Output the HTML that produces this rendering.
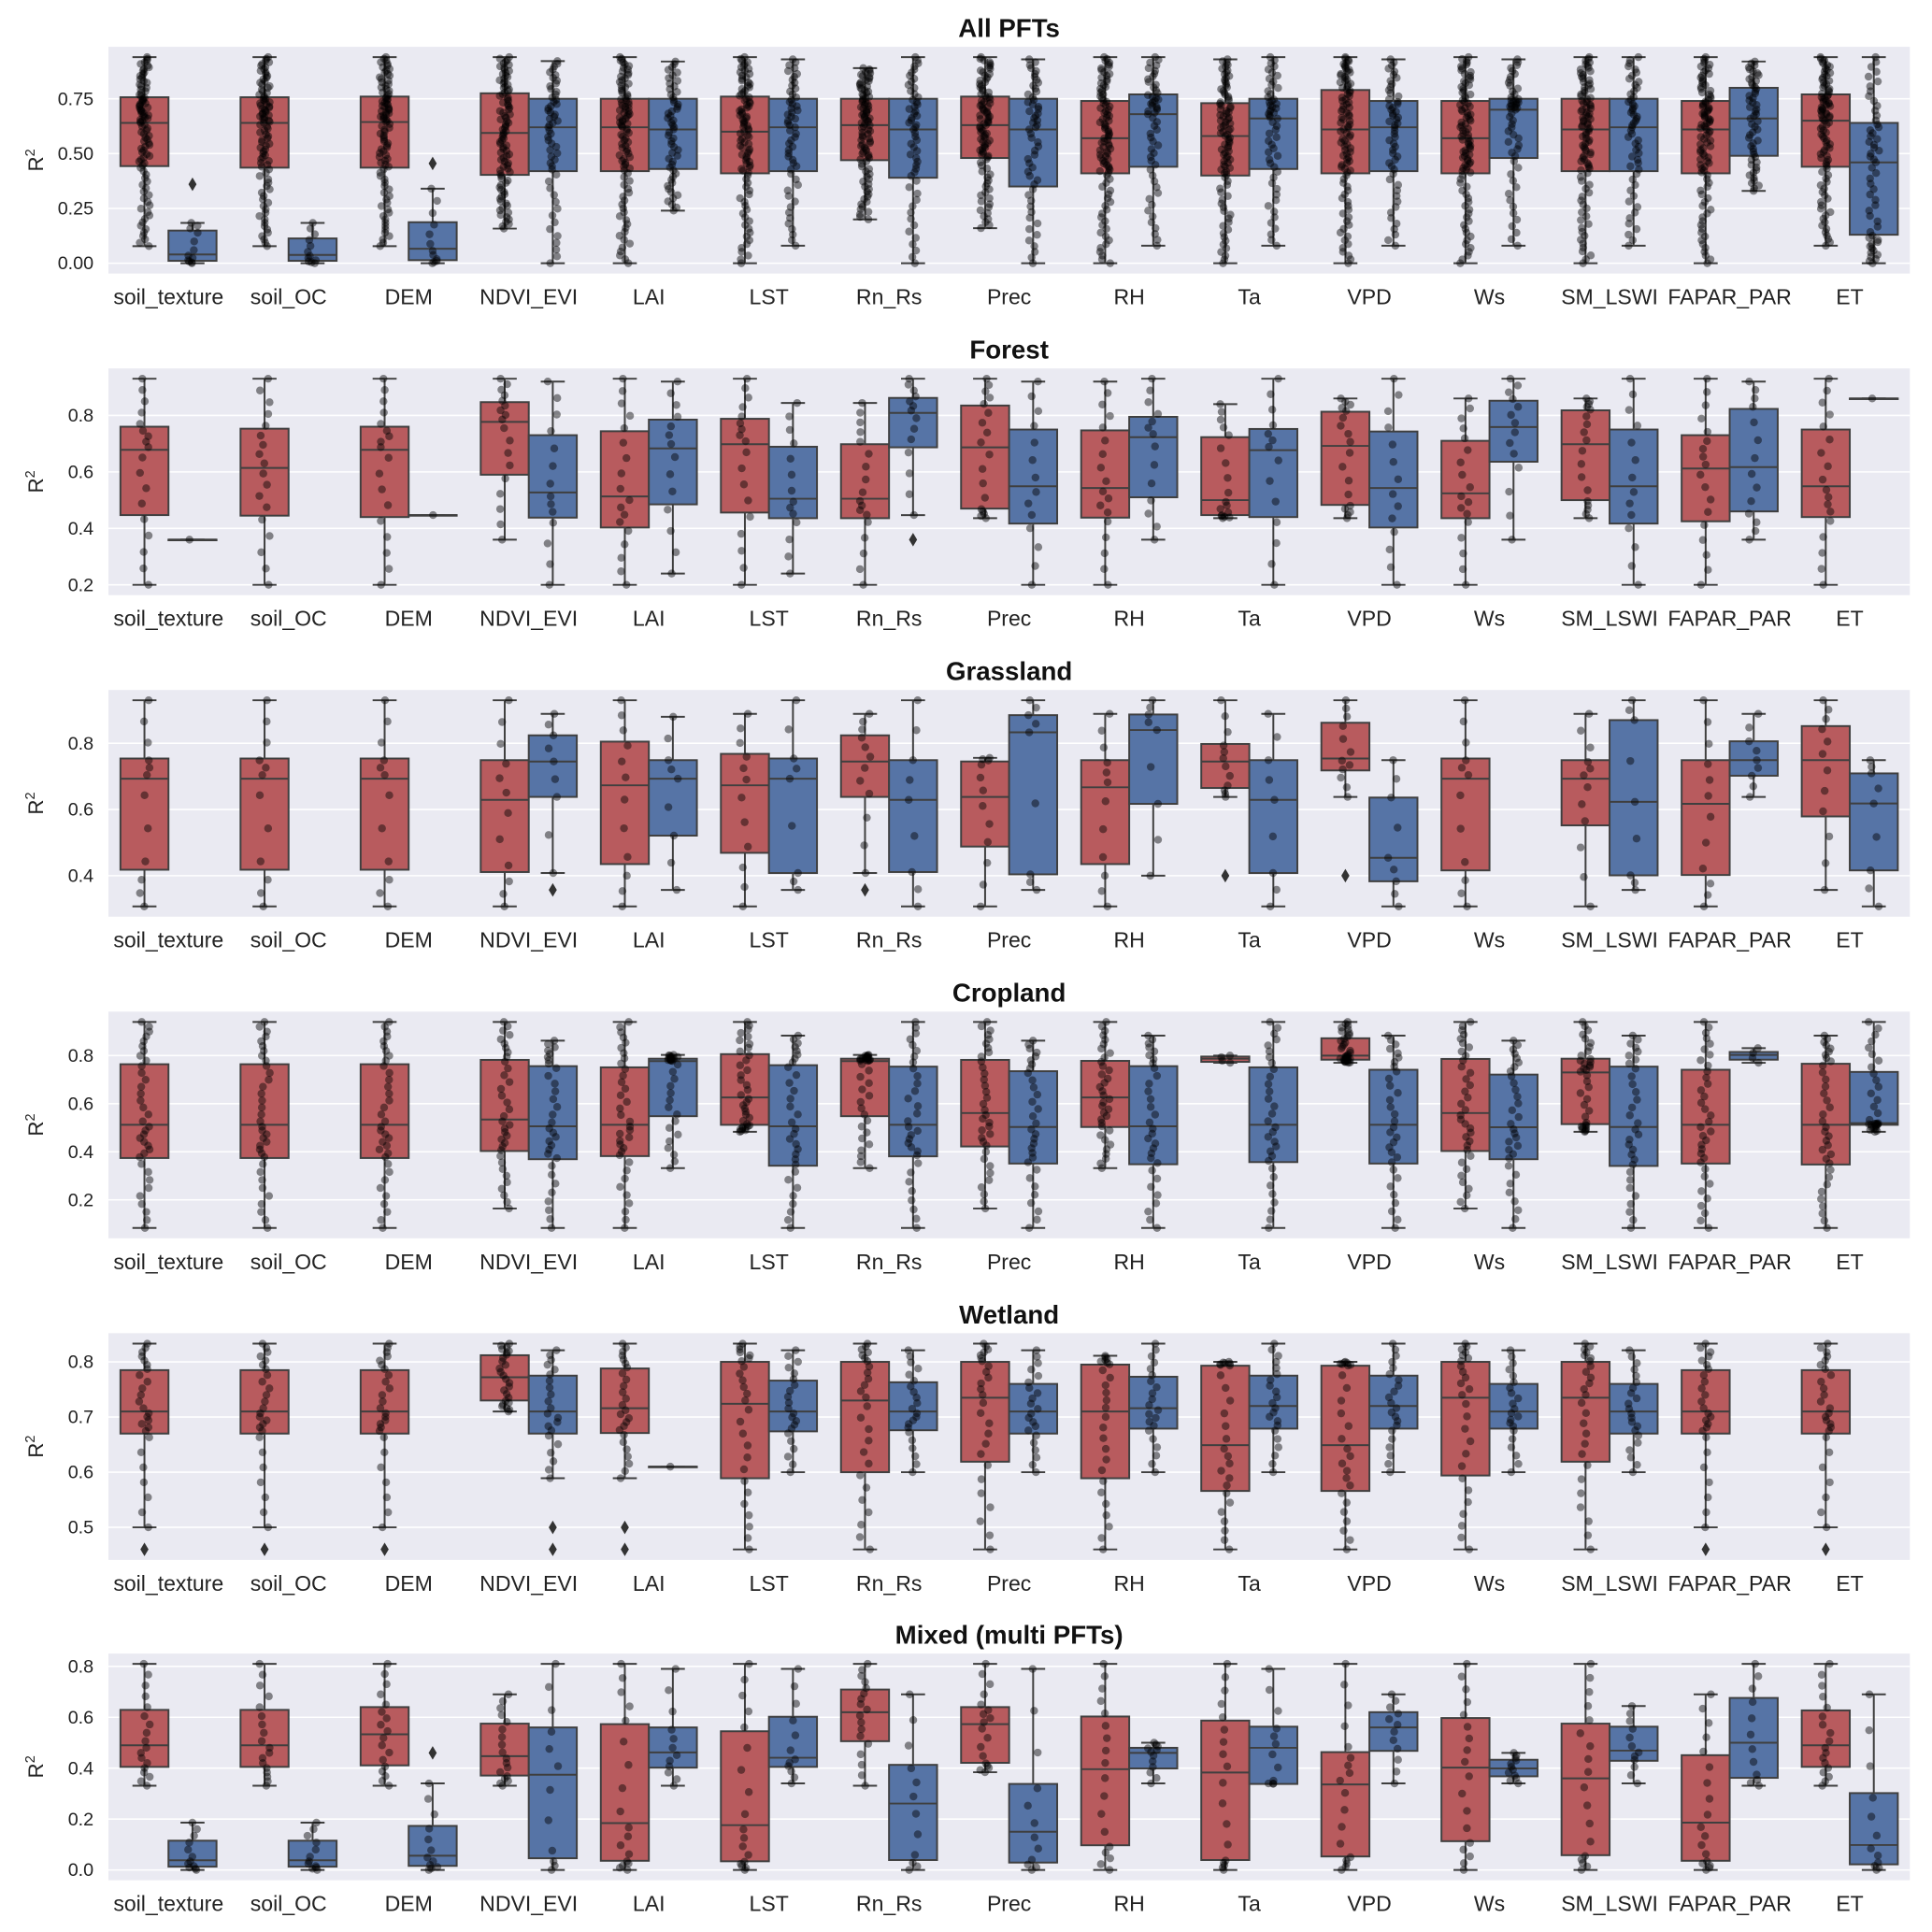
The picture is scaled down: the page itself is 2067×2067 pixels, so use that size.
<!DOCTYPE html>
<html><head><meta charset="utf-8">
<style>
html,body{margin:0;padding:0;background:#fff;}
svg{display:block;font-family:"Liberation Sans",Arial,sans-serif;}
</style></head>
<body>
<svg id="chart" width="2067" height="2067" viewBox="0 0 1568 1568" xmlns="http://www.w3.org/2000/svg"></svg>
<script>
// ---- data ----
const categories = ["soil_texture","soil_OC","DEM","NDVI_EVI","LAI","LST","Rn_Rs","Prec","RH","Ta","VPD","Ws","SM_LSWI","FAPAR_PAR","ET"];
const panelTitles = ["All PFTs","Forest","Grassland","Cropland","Wetland","Mixed (multi PFTs)"];
// box stats: [whiskerLow, q1, median, q3, whiskerHigh]
const allRed = [[.078,.443,.64,.757,.94],[.078,.436,.64,.757,.94],[.078,.436,.644,.76,.94],[.158,.403,.594,.775,.94],[0,.42,.62,.75,.94],[0,.41,.60,.76,.94],[.2,.47,.63,.75,.89],[.16,.48,.63,.76,.94],[0,.41,.57,.74,.94],[0,.40,.58,.73,.93],[0,.41,.61,.79,.94],[0,.41,.57,.74,.94],[0,.42,.61,.75,.94],[0,.41,.61,.74,.94],[.08,.44,.65,.77,.94]];
const allBlue = [[0,.011,.04,.149,.184],[0,.011,.038,.113,.184],[0,.014,.066,.187,.34],[0,.42,.62,.75,.922],[.24,.43,.61,.75,.92],[.08,.42,.62,.75,.93],[0,.39,.61,.75,.94],[0,.35,.61,.75,.93],[.08,.44,.68,.77,.94],[.08,.43,.66,.75,.94],[.08,.42,.62,.74,.93],[.08,.48,.70,.75,.93],[.08,.42,.62,.75,.94],[.33,.49,.66,.80,.92],[0,.13,.46,.64,.94]];
const forestRed = [[.2,.447,.678,.76,.93],[.2,.445,.614,.753,.93],[.2,.44,.678,.76,.93],[.36,.59,.777,.847,.93],[.2,.403,.513,.744,.93],[.2,.456,.698,.788,.93],[.2,.436,.505,.698,.844],[.436,.47,.687,.835,.93],[.2,.438,.543,.747,.92],[.436,.447,.5,.723,.84],[.436,.483,.692,.813,.86],[.2,.436,.524,.71,.86],[.436,.5,.698,.818,.86],[.2,.425,.612,.73,.93],[.2,.44,.549,.75,.93]];
const forestBlue = [[.36,.36,.36,.36,.36],null,[.447,.447,.447,.447,.447],[.2,.438,.527,.73,.92],[.24,.485,.683,.785,.92],[.24,.436,.505,.689,.844],[.447,.687,.809,.862,.93],[.2,.417,.549,.75,.92],[.36,.51,.723,.795,.93],[.2,.44,.677,.752,.93],[.2,.403,.543,.743,.93],[.36,.636,.759,.852,.93],[.2,.417,.549,.75,.93],[.36,.46,.617,.823,.92],[.86,.86,.86,.86,.86]];
const grassRed = [[.307,.418,.693,.754,.93],[.307,.418,.693,.754,.93],[.307,.418,.693,.754,.93],[.307,.411,.629,.749,.93],[.307,.435,.673,.805,.93],[.307,.469,.673,.768,.889],[.408,.638,.745,.824,.889],[.307,.488,.638,.745,.756],[.307,.435,.667,.749,.889],[.638,.665,.745,.798,.93],[.638,.718,.754,.862,.93],[.307,.416,.693,.754,.93],[.307,.552,.693,.749,.889],[.307,.402,.617,.749,.93],[.357,.579,.749,.852,.93]];
const grassBlue = [null,null,null,[.408,.638,.745,.824,.889],[.357,.521,.693,.749,.88],[.357,.408,.693,.754,.93],[.307,.411,.629,.749,.93],[.357,.404,.833,.885,.93],[.4,.617,.84,.887,.93],[.307,.408,.629,.749,.889],[.307,.383,.454,.636,.749],null,[.357,.401,.623,.87,.93],[.638,.702,.749,.806,.889],[.307,.416,.618,.709,.749]];
const cropRed = [[.083,.374,.512,.764,.94],[.083,.374,.512,.764,.94],[.083,.374,.512,.764,.94],[.164,.403,.534,.782,.94],[.083,.382,.512,.751,.94],[.483,.512,.626,.806,.94],[.332,.548,.777,.787,.803],[.164,.422,.561,.782,.94],[.332,.503,.626,.778,.94],[.77,.774,.787,.796,.80],[.77,.783,.80,.872,.94],[.164,.403,.561,.786,.94],[.483,.515,.73,.787,.94],[.083,.351,.512,.741,.94],[.083,.347,.512,.766,.883]];
const cropBlue = [null,null,null,[.083,.369,.506,.756,.862],[.332,.548,.777,.787,.803],[.083,.342,.506,.76,.883],[.083,.381,.512,.754,.94],[.083,.351,.503,.735,.862],[.083,.348,.506,.756,.883],[.083,.357,.512,.751,.94],[.083,.351,.512,.741,.883],[.083,.369,.502,.721,.862],[.083,.341,.503,.754,.883],[.77,.783,.803,.815,.831],[.483,.512,.519,.732,.94]];
const wetRed = [[.5,.67,.71,.785,.833],[.5,.67,.71,.785,.833],[.5,.67,.71,.785,.833],[.71,.73,.772,.812,.833],[.589,.671,.716,.788,.833],[.46,.589,.724,.8,.833],[.46,.6,.73,.8,.833],[.46,.619,.735,.8,.833],[.46,.589,.71,.795,.811],[.46,.566,.649,.793,.8],[.46,.566,.649,.793,.8],[.46,.594,.735,.8,.833],[.46,.619,.735,.8,.833],[.5,.67,.71,.785,.833],[.5,.67,.71,.785,.833]];
const wetBlue = [null,null,null,[.589,.67,.71,.775,.821],[.61,.61,.61,.61,.61],[.6,.674,.71,.766,.821],[.6,.676,.71,.763,.821],[.6,.67,.71,.76,.821],[.6,.679,.716,.773,.833],[.6,.679,.72,.775,.833],[.6,.679,.72,.775,.833],[.6,.679,.71,.76,.821],[.6,.67,.71,.76,.821],null,null];
const mixRed = [[.331,.405,.49,.629,.81],[.331,.405,.49,.629,.81],[.331,.411,.533,.64,.81],[.331,.371,.447,.575,.69],[0,.036,.184,.573,.81],[0,.034,.176,.545,.81],[.331,.506,.62,.709,.81],[.384,.421,.573,.64,.81],[0,.097,.396,.603,.81],[0,.039,.383,.587,.81],[0,.053,.336,.463,.81],[0,.113,.402,.597,.81],[0,.058,.36,.575,.81],[0,.036,.186,.451,.69],[.331,.405,.49,.627,.81]];
const mixBlue = [[0,.013,.038,.115,.186],[0,.013,.038,.115,.186],[0,.016,.056,.173,.34],[0,.046,.374,.56,.81],[.331,.402,.462,.56,.79],[.34,.405,.441,.602,.79],[0,.039,.261,.413,.69],[0,.029,.15,.338,.79],[.34,.399,.46,.48,.5],[.34,.338,.48,.563,.79],[.34,.468,.56,.62,.69],[.34,.368,.399,.433,.46],[.34,.429,.469,.563,.644],[.331,.362,.5,.676,.81],[0,.022,.098,.302,.69]];
// outliers: [categoryIndex, hue(0 red,1 blue), value]
const allOutliers = [[0,1,.36],[2,1,.455]];
const forestOutliers = [[6,1,.36]];
const grassOutliers = [[3,1,.357],[6,0,.357],[9,0,.4],[10,0,.4]];
const cropOutliers = [];
const wetOutliers = [[0,0,.46],[1,0,.46],[2,0,.46],[3,1,.5],[3,1,.46],[4,0,.5],[4,0,.46],[13,0,.46],[14,0,.46]];
const mixOutliers = [[2,1,.46]];
// number of strip points per box [red, blue]
const allCounts = [95,55];
const forestCounts = [18,14];
const grassCounts = [12,9];
const cropCounts = [36,32];
const wetCounts = [26,22];
const mixCounts = [18,12];
// axis ticks
const allTicks = [0,0.25,0.5,0.75];
const forestTicks = [0.2,0.4,0.6,0.8];
const grassTicks = [0.4,0.6,0.8];
const cropTicks = [0.2,0.4,0.6,0.8];
const wetTicks = [0.5,0.6,0.7,0.8];
const mixTicks = [0.0,0.2,0.4,0.6,0.8];
const allTickLabels = ["0.00","0.25","0.50","0.75"];
const forestTickLabels = ["0.2","0.4","0.6","0.8"];
const grassTickLabels = ["0.4","0.6","0.8"];
const cropTickLabels = ["0.2","0.4","0.6","0.8"];
const wetTickLabels = ["0.5","0.6","0.7","0.8"];
const mixTickLabels = ["0.0","0.2","0.4","0.6","0.8"];

// ---- layout ----
const panels = [
 {red:allRed,blue:allBlue,out:allOutliers,cnt:allCounts,ticks:allTicks,tl:allTickLabels,dom:[-0.047,0.987]},
 {red:forestRed,blue:forestBlue,out:forestOutliers,cnt:forestCounts,ticks:forestTicks,tl:forestTickLabels,dom:[0.1635,0.9665]},
 {red:grassRed,blue:grassBlue,out:grassOutliers,cnt:grassCounts,ticks:grassTicks,tl:grassTickLabels,dom:[0.276,0.961]},
 {red:cropRed,blue:cropBlue,out:cropOutliers,cnt:cropCounts,ticks:cropTicks,tl:cropTickLabels,dom:[0.040,0.983]},
 {red:wetRed,blue:wetBlue,out:wetOutliers,cnt:wetCounts,ticks:wetTicks,tl:wetTickLabels,dom:[0.441,0.852]},
 {red:mixRed,blue:mixBlue,out:mixOutliers,cnt:mixCounts,ticks:mixTicks,tl:mixTickLabels,dom:[-0.0405,0.8505]}
];
const tops=[38,299,560,821,1082,1342], PH=184, X0=88, X1=1550;
const BW=(X1-X0)/categories.length;
const boxW=BW*0.4;
const fills=["#b85b5e","#5674a6"];
const edge="#3f3f3f";
const NS="http://www.w3.org/2000/svg";
const svg=document.getElementById('chart');
function mk(tag,attrs,parent){const e=document.createElementNS(NS,tag);for(const k in attrs)e.setAttribute(k,attrs[k]);(parent||svg).appendChild(e);return e;}
function quant(s,p){const ps=[0,.25,.5,.75,1];for(let i=0;i<4;i++){if(p<=ps[i+1]){const t=(p-ps[i])/(ps[i+1]-ps[i]);return s[i]+(s[i+1]-s[i])*t;}}return s[4];}

panels.forEach((P,pi)=>{
  const top=tops[pi], bot=top+PH;
  const y=v=>bot-(v-P.dom[0])/(P.dom[1]-P.dom[0])*PH;
  const xc=i=>X0+BW*(i+0.5);
  const g=mk('g',{});
  
  
  const bg=mk('rect',{x:X0,y:top,width:X1-X0,height:PH,fill:'#eaeaf2'},g);
  
  
  P.ticks.forEach((t,ti)=>{
    const gl=mk('line',{x1:X0,x2:X1,y1:y(t),y2:y(t),stroke:'#fff','stroke-width':1.2},g);
    
    
    const tx=mk('text',{x:76,y:y(t)+5,'text-anchor':'end','font-size':15,fill:'#222'},g);
    tx.textContent=P.tl[ti];
    
    
  });
  const tt=mk('text',{x:(X0+X1)/2,y:top-8,'text-anchor':'middle','font-size':21,'font-weight':'bold',fill:'#111'},g);
  tt.textContent=panelTitles[pi];
  
  
  const yl=mk('text',{x:0,y:0,'text-anchor':'middle','font-size':17,fill:'#222',transform:`translate(35,${top+PH/2}) rotate(-90)`},g);
  yl.innerHTML='R<tspan dy="-7" font-size="11">2</tspan>';
  
  
  categories.forEach((c,ci)=>{
    const xl=mk('text',{x:xc(ci),y:bot+25,'text-anchor':'middle','font-size':17.5,fill:'#222'},g);
    xl.textContent=c;
    
    
  });
  const pts=[];
  [P.red,P.blue].forEach((arr,h)=>{
    arr.forEach((s,ci)=>{
      if(!s) return;
      const cx=xc(ci)+(h===0?-boxW/2:boxW/2);
      const bg2=mk('g',{},g);
      
      
      const wl=mk('line',{x1:cx,x2:cx,y1:y(s[0]),y2:y(s[4]),stroke:edge,'stroke-width':1.5},bg2);
      
      
      [s[0],s[4]].forEach(v=>{
        const cap=mk('line',{x1:cx-boxW/4,x2:cx+boxW/4,y1:y(v),y2:y(v),stroke:edge,'stroke-width':1.5},bg2);
        
        
      });
      const r=mk('rect',{x:cx-boxW/2,y:y(s[3]),width:boxW,height:Math.max(0.5,y(s[1])-y(s[3])),fill:fills[h],stroke:edge,'stroke-width':1.5},bg2);
      
      
      const md=mk('line',{x1:cx-boxW/2,x2:cx+boxW/2,y1:y(s[2]),y2:y(s[2]),stroke:edge,'stroke-width':1.5},bg2);
      
      
      let n=P.cnt[h]; if(s[4]-s[0]<0.01) n=1;
      else if(s[4]-s[0]<0.1) n=Math.min(n,4);
      if(pi===0&&h===1&&ci<3) n=12;
      for(let k=0;k<n;k++){
        const p=n===1?0.5:k/(n-1);
        const v=quant(s,p);
        const jit=Math.sin((k+1)*12.9898+ci*78.233+h*3.1+pi*1.7)*43758.5453;
        const j=(jit-Math.floor(jit)-0.5)*boxW*0.22;
        pts.push([cx+j,y(v)]);
      }
    });
  });
  P.out.forEach(o=>{
    const cx=xc(o[0])+(o[1]===0?-boxW/2:boxW/2), cy=y(o[2]);
    const d=mk('path',{d:`M${cx},${cy-5.5}L${cx+3.3},${cy}L${cx},${cy+5.5}L${cx-3.3},${cy}Z`,fill:'#333'},g);
    
    
  });
  pts.forEach(p=>{
    const c=mk('circle',{cx:p[0],cy:p[1],r:3.2,fill:'#000','fill-opacity':0.45},g);
    
    
  });
});
</script>
</body></html>
